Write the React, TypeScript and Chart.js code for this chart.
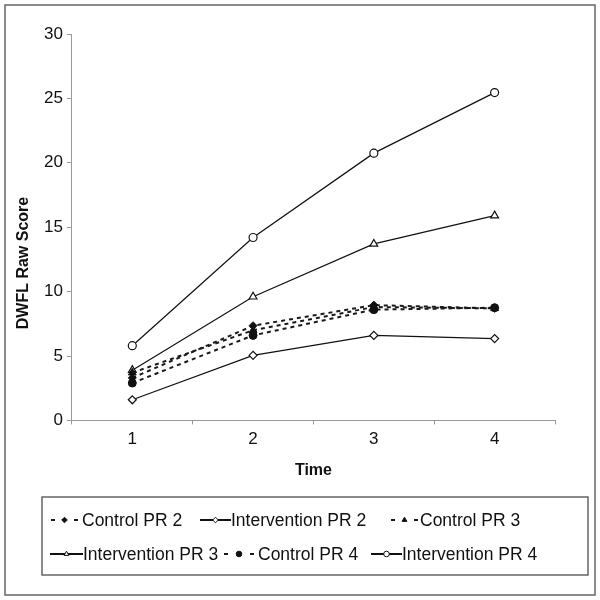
import { useEffect, useRef } from "react";
import { Chart, registerables } from "chart.js";
import { drawPoint } from "chart.js/helpers";

Chart.register(...registerables);

const timeLabels = ["1", "2", "3", "4"];
const controlPR2 = [3.3, 7.35, 8.95, 8.7];
const interventionPR2 = [1.6, 5.05, 6.6, 6.35];
const controlPR3 = [3.7, 7.0, 8.8, 8.7];
const interventionPR3 = [3.9, 9.6, 13.7, 15.9];
const controlPR4 = [2.9, 6.6, 8.6, 8.75];
const interventionPR4 = [5.8, 14.2, 20.75, 25.45];
const seriesNames = [
  "Control PR 2",
  "Intervention PR 2",
  "Control PR 3",
  "Intervention PR 3",
  "Control PR 4",
  "Intervention PR 4",
];
const yAxisTitle = "DWFL Raw Score";
const xAxisTitle = "Time";

const FONT = "'Liberation Sans', Arial, sans-serif";
const INK = "#111";

// legend placement: [sampleStart, sampleEnd, textX, rowY]
const legendSlots = [
  [51, 78, 82, 520],
  [200, 231, 231, 520],
  [391, 418, 420, 520],
  [50, 83, 83, 554],
  [224, 254, 258, 554],
  [371, 402, 402, 554],
];

const framePlugin = {
  id: "frame",
  afterDraw(chart: any) {
    const ctx = chart.ctx as CanvasRenderingContext2D;
    ctx.save();
    ctx.strokeStyle = "#666";
    ctx.lineWidth = 1.5;
    ctx.strokeRect(5, 5, 590, 590);
    ctx.fillStyle = INK;
    ctx.font = `bold 16px ${FONT}`;
    ctx.textAlign = "center";
    ctx.textBaseline = "middle";
    ctx.translate(24, 263);
    ctx.rotate(-Math.PI / 2);
    ctx.fillText(yAxisTitle, 0, 0);
    ctx.restore();

    ctx.save();
    ctx.strokeStyle = "#666";
    ctx.lineWidth = 1.5;
    ctx.strokeRect(42, 497, 546, 78);
    chart.data.datasets.forEach((ds: any, i: number) => {
      const [x0, x1, tx, y] = legendSlots[i];
      const dashed = ds.borderDash && ds.borderDash.length > 0;
      ctx.save();
      ctx.strokeStyle = ds.borderColor;
      ctx.lineWidth = 2;
      ctx.beginPath();
      if (dashed) {
        ctx.moveTo(x0, y);
        ctx.lineTo(x0 + 4, y);
        ctx.moveTo(x1 - 4, y);
        ctx.lineTo(x1, y);
      } else {
        ctx.moveTo(x0, y);
        ctx.lineTo(x1, y);
      }
      ctx.stroke();
      ctx.fillStyle = ds.pointBackgroundColor;
      ctx.strokeStyle = ds.pointBorderColor;
      ctx.lineWidth = 1;
      drawPoint(
        ctx,
        {
          pointStyle: ds.pointStyle,
          radius: 2.8,
          rotation: 0,
          borderWidth: 1,
        } as any,
        (x0 + x1) / 2,
        y
      );
      ctx.restore();
      ctx.fillStyle = INK;
      ctx.font = `17.5px ${FONT}`;
      ctx.textAlign = "left";
      ctx.textBaseline = "middle";
      ctx.fillText(ds.label, tx, y + 1);
    });
    ctx.restore();
  },
};

function control(label: string, data: number[], style: string) {
  return {
    label,
    data,
    borderColor: "#1a1a1a",
    borderWidth: 2,
    borderDash: [4, 4],
    pointStyle: style,
    pointRadius: style === "triangle" ? 4.5 : 4,
    pointBackgroundColor: "#111",
    pointBorderColor: "#111",
    pointBorderWidth: 1,
    fill: false,
    tension: 0,
  };
}

function intervention(label: string, data: number[], style: string) {
  return {
    label,
    data,
    borderColor: "#111",
    borderWidth: 1.2,
    borderDash: [],
    pointStyle: style,
    pointRadius: style === "triangle" ? 4.5 : 4,
    pointBackgroundColor: "#fff",
    pointBorderColor: "#111",
    pointBorderWidth: 1.2,
    fill: false,
    tension: 0,
  };
}

export default function App() {
  const ref = useRef<HTMLCanvasElement>(null);

  useEffect(() => {
    if (!ref.current) return;
    const chart = new Chart(ref.current, {
      type: "line",
      data: {
        labels: timeLabels,
        datasets: [
          control(seriesNames[0], controlPR2, "rectRot"),
          intervention(seriesNames[1], interventionPR2, "rectRot"),
          control(seriesNames[2], controlPR3, "triangle"),
          intervention(seriesNames[3], interventionPR3, "triangle"),
          control(seriesNames[4], controlPR4, "circle"),
          intervention(seriesNames[5], interventionPR4, "circle"),
        ] as any,
      },
      options: {
        animation: false,
        responsive: false,
        layout: { padding: { left: 40, right: 45, top: 34, bottom: 120 } },
        plugins: {
          legend: { display: false },
          tooltip: { enabled: false },
        },
        scales: {
          x: {
            offset: true,
            grid: {
              offset: true,
              drawOnChartArea: false,
              drawTicks: true,
              tickLength: 4,
              color: "#999",
            },
            border: { display: true, color: "#999", width: 1 },
            ticks: {
              color: INK,
              font: { family: FONT, size: 17 },
              padding: 5,
            },
            title: {
              display: true,
              text: xAxisTitle,
              color: INK,
              font: { family: FONT, size: 16, weight: "bold" },
              padding: { top: 6, bottom: 0 },
            },
          },
          y: {
            min: 0,
            max: 30,
            ticks: {
              stepSize: 5,
              color: INK,
              font: { family: FONT, size: 17 },
              padding: 4,
            },
            grid: {
              drawOnChartArea: false,
              drawTicks: true,
              tickLength: 5,
              color: "#999",
            },
            border: { display: true, color: "#999", width: 1 },
          },
        },
      },
      plugins: [framePlugin],
    });
    return () => chart.destroy();
  }, []);

  return (
    <div style={{ position: "absolute", left: 0, top: 0, width: 600, height: 600, background: "#fff" }}>
      <canvas ref={ref} width={600} height={600} style={{ display: "block" }} />
    </div>
  );
}
